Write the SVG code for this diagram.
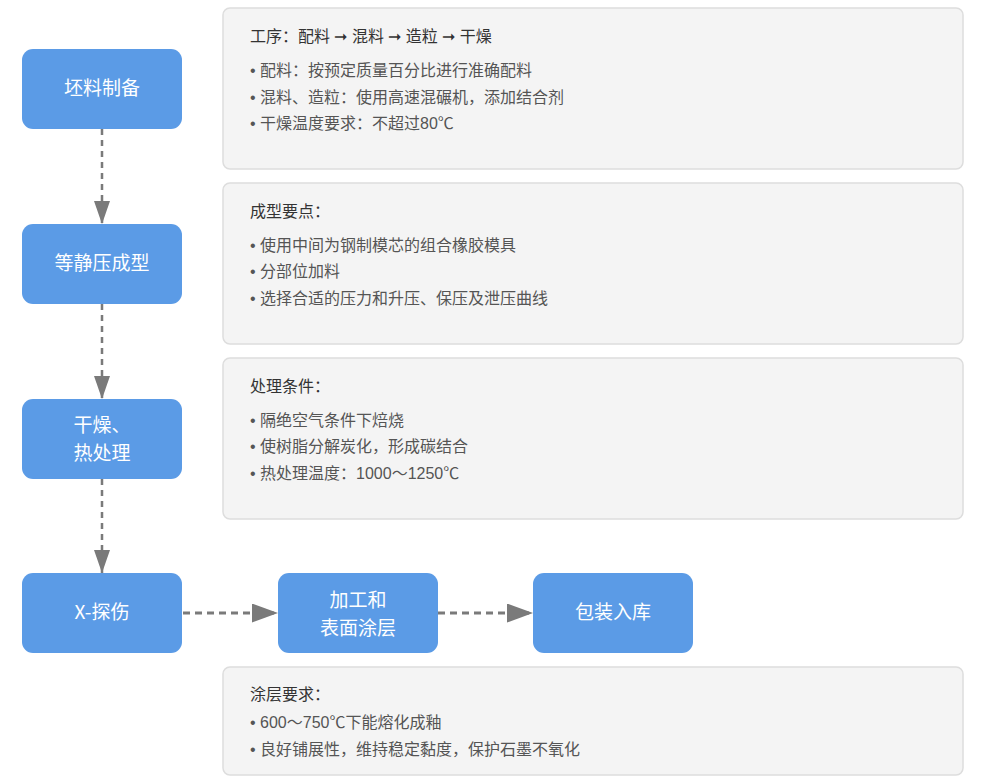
<svg xmlns="http://www.w3.org/2000/svg" width="1000" height="782" viewBox="0 0 1000 782">
<defs>
<marker id="ahv" viewBox="0 0 23 16" refX="23" refY="8" markerWidth="23" markerHeight="16" markerUnits="userSpaceOnUse" orient="auto">
<path d="M0,0 L23,8 L0,16 Z" fill="#7a7a7a"/>
</marker>
<marker id="ahh" viewBox="0 0 26 19" refX="26" refY="9.5" markerWidth="26" markerHeight="19" markerUnits="userSpaceOnUse" orient="auto">
<path d="M0,0 L26,9.5 L0,19 Z" fill="#7a7a7a"/>
</marker>
<style>
.node rect{fill:#5b9be6;}
.node text{fill:#fff;font-family:"Noto Sans CJK SC","Liberation Sans",sans-serif;font-size:19px;text-anchor:middle;}
.note rect{fill:#f4f4f4;stroke:#dddddd;stroke-width:1.5;}
.note .t{fill:#333;font-family:"Liberation Sans","Noto Sans CJK SC",sans-serif;font-size:16px;}
.note .b{fill:#555;font-family:"Liberation Sans","Noto Sans CJK SC",sans-serif;font-size:16px;}
.conn line{stroke:#7a7a7a;fill:none;}
.v{stroke-width:2.5;stroke-dasharray:6 5;}
.h{stroke-width:3;stroke-dasharray:7 5;}
</style>
</defs>
<rect width="1000" height="782" fill="#ffffff"/>

<g id="note1" class="note">
<rect x="223" y="8" width="740" height="161" rx="7"/>
<text class="t" x="250" y="42">工序：配料 ➞ 混料 ➞ 造粒 ➞ 干燥</text>
<text class="b" x="250" y="76">• 配料：按预定质量百分比进行准确配料</text>
<text class="b" x="250" y="103">• 混料、造粒：使用高速混碾机，添加结合剂</text>
<text class="b" x="250" y="129">• 干燥温度要求：不超过80℃</text>
</g>
<g id="note2" class="note">
<rect x="223" y="183" width="740" height="161" rx="7"/>
<text class="t" x="250" y="217">成型要点：</text>
<text class="b" x="250" y="251">• 使用中间为钢制模芯的组合橡胶模具</text>
<text class="b" x="250" y="277">• 分部位加料</text>
<text class="b" x="250" y="304">• 选择合适的压力和升压、保压及泄压曲线</text>
</g>
<g id="note3" class="note">
<rect x="223" y="358" width="740" height="161" rx="7"/>
<text class="t" x="250" y="392">处理条件：</text>
<text class="b" x="250" y="426">• 隔绝空气条件下焙烧</text>
<text class="b" x="250" y="452">• 使树脂分解炭化，形成碳结合</text>
<text class="b" x="250" y="479">• 热处理温度：1000～1250℃</text>
</g>
<g id="note4" class="note">
<rect x="223" y="667" width="740" height="108" rx="7"/>
<text class="t" x="250" y="700">涂层要求：</text>
<text class="b" x="250" y="728">• 600～750℃下能熔化成釉</text>
<text class="b" x="250" y="755">• 良好铺展性，维持稳定黏度，保护石墨不氧化</text>
</g>

<g id="connectors" class="conn">
<line class="v" x1="102" y1="129" x2="102" y2="224" marker-end="url(#ahv)"/>
<line class="v" x1="102" y1="304" x2="102" y2="399" marker-end="url(#ahv)"/>
<line class="v" x1="102" y1="479" x2="102" y2="573" marker-end="url(#ahv)"/>
<line class="h" x1="183" y1="613" x2="278" y2="613" marker-end="url(#ahh)"/>
<line class="h" x1="438" y1="613" x2="533" y2="613" marker-end="url(#ahh)"/>
</g>

<g id="n1" class="node">
<rect x="22" y="49" width="160" height="80" rx="11"/>
<text x="102" y="95">坯料制备</text>
</g>
<g id="n2" class="node">
<rect x="22" y="224" width="160" height="80" rx="11"/>
<text x="102" y="270">等静压成型</text>
</g>
<g id="n3" class="node">
<rect x="22" y="399" width="160" height="80" rx="11"/>
<text x="102" y="432">干燥、</text>
<text x="102" y="460">热处理</text>
</g>
<g id="n4" class="node">
<rect x="22" y="573" width="160" height="80" rx="11"/>
<text x="102" y="619">X-探伤</text>
</g>
<g id="n5" class="node">
<rect x="278" y="573" width="160" height="80" rx="11"/>
<text x="358" y="607">加工和</text>
<text x="358" y="635">表面涂层</text>
</g>
<g id="n6" class="node">
<rect x="533" y="573" width="160" height="80" rx="11"/>
<text x="613" y="619">包装入库</text>
</g>
</svg>
